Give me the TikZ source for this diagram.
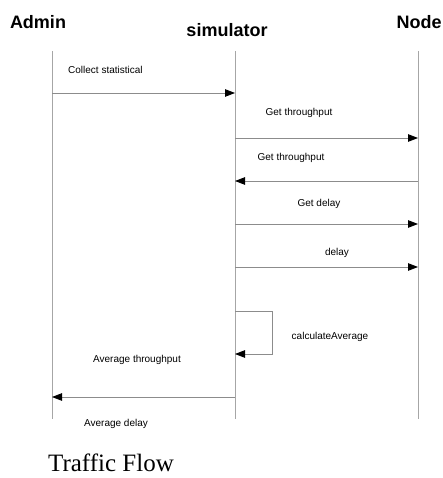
\documentclass[tikz,border=0pt]{standalone}
\usepackage{fontspec}
\setmainfont{Liberation Serif}
\setsansfont{Liberation Sans}
\usetikzlibrary{arrows.meta}
\definecolor{lifegray}{HTML}{A6A6A6}
\definecolor{msggray}{HTML}{8C8C8C}

\begin{document}
\begin{tikzpicture}[x=1pt,y=-1pt,
  actor/.style={font=\sffamily\bfseries\fontsize{18}{20}\selectfont, inner sep=0pt},
  msglabel/.style={font=\sffamily\fontsize{10}{12}\selectfont, inner sep=0pt},
  lifeline/.style={draw=lifegray, line width=0.9pt},
  msg/.style={draw=msggray, line width=0.9pt, -{Triangle[length=10pt,width=7.5pt,color=black]}}]
\useasboundingbox (0,0) rectangle (442,478);
% actors
\node[actor] (admin) at (38,22) {Admin};
\node[actor] (sim) at (227,30) {simulator};
\node[actor] (nd) at (419,22) {Node};
% lifelines
\coordinate (admintop) at (52,51);
\coordinate (adminbot) at (52,419);
\coordinate (simtop) at (235,51);
\coordinate (simbot) at (235,419);
\coordinate (ndtop) at (418,51);
\coordinate (ndbot) at (418,419);
\draw[lifeline] (admintop) -- (adminbot);
\draw[lifeline] (simtop) -- (simbot);
\draw[lifeline] (ndtop) -- (ndbot);
% message ends
\coordinate (a1) at (52,93);   \coordinate (s1) at (235,93);
\coordinate (s2) at (235,138); \coordinate (n2) at (418,138);
\coordinate (n3) at (418,181); \coordinate (s3) at (235,181);
\coordinate (s4) at (235,224); \coordinate (n4) at (418,224);
\coordinate (s5) at (235,267); \coordinate (n5) at (418,267);
\coordinate (s6) at (235,311); \coordinate (s7) at (235,354);
\coordinate (s8) at (235,397); \coordinate (a8) at (52,397);
% messages
\draw[msg] (a1) -- (s1);
\draw[msg] (s2) -- (n2);
\draw[msg] (n3) -- (s3);
\draw[msg] (s4) -- (n4);
\draw[msg] (s5) -- (n5);
\draw[msg] (s6) -- ++(37,0) |- (s7);
\draw[msg] (s8) -- (a8);
% labels
\node[msglabel, anchor=west] (l1) at (68,70) {Collect statistical};
\node[msglabel] (l2) at (299,113) {Get throughput};
\node[msglabel] (l3) at (291,158) {Get throughput};
\node[msglabel] (l4) at (319,204) {Get delay};
\node[msglabel] (l5) at (337,253) {delay};
\node[msglabel] (l6) at (330,337) {calculateAverage};
\node[msglabel] (l7) at (137,360) {Average throughput};
\node[msglabel] (l8) at (116,424) {Average delay};
% caption
\node[font=\fontsize{25}{28}\selectfont, inner sep=0pt, anchor=base] (cap) at (111,471) {Traffic Flow};
\end{tikzpicture}
\end{document}
